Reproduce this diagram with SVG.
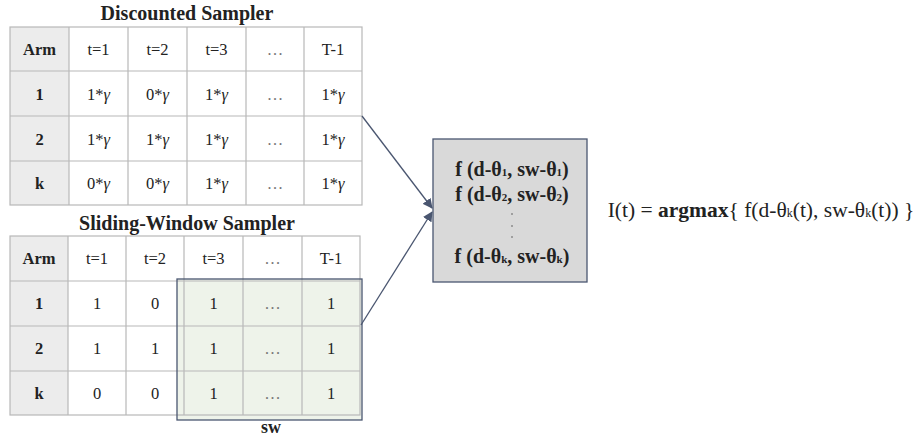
<svg xmlns="http://www.w3.org/2000/svg" width="919" height="440" viewBox="0 0 919 440">
<style>
.t{font-family:"Liberation Serif","Times New Roman",serif;fill:#222;text-anchor:middle}
.c{font-size:16.5px}
.b{font-weight:bold}
.g{font-style:italic}
.ttl{font-size:20px;font-weight:bold}
.grid{stroke:#b8b8b8;stroke-width:1.2;fill:none}
.hdr{fill:#ececec}
.dots{fill:#777}
.con{stroke:#4a5670;stroke-width:1.3;fill:none}
</style>
<defs>
<marker id="ah" viewBox="0 0 10 10" refX="9" refY="5" markerWidth="10" markerHeight="10" orient="auto" markerUnits="userSpaceOnUse">
<path d="M0,0 L10,5 L0,10 z" fill="#4a5670"/>
</marker>
</defs>
<rect width="919" height="440" fill="#fff"/>

<g id="discounted">
<text class="t ttl" x="187" y="20">Discounted Sampler</text>
<rect class="hdr" x="10" y="27" width="59" height="178"/>
<rect class="grid" x="10" y="27" width="352" height="178"/>
<path class="grid" d="M69,27V205M128,27V205M187,27V205M246,27V205M304,27V205M10,71H362M10,116H362M10,161H362"/>
<g class="t c">
<text class="b" x="39.5" y="55">Arm</text><text x="98.5" y="55">t=1</text><text x="157.5" y="55">t=2</text><text x="216.5" y="55">t=3</text><text class="dots" x="275" y="55">…</text><text x="333" y="55">T-1</text>
<text class="b" x="39.5" y="100">1</text><text x="98.5" y="100">1*<tspan class="g">γ</tspan></text><text x="157.5" y="100">0*<tspan class="g">γ</tspan></text><text x="216.5" y="100">1*<tspan class="g">γ</tspan></text><text class="dots" x="275" y="100">…</text><text x="333" y="100">1*<tspan class="g">γ</tspan></text>
<text class="b" x="39.5" y="145">2</text><text x="98.5" y="145">1*<tspan class="g">γ</tspan></text><text x="157.5" y="145">1*<tspan class="g">γ</tspan></text><text x="216.5" y="145">1*<tspan class="g">γ</tspan></text><text class="dots" x="275" y="145">…</text><text x="333" y="145">1*<tspan class="g">γ</tspan></text>
<text class="b" x="39.5" y="189">k</text><text x="98.5" y="189">0*<tspan class="g">γ</tspan></text><text x="157.5" y="189">0*<tspan class="g">γ</tspan></text><text x="216.5" y="189">1*<tspan class="g">γ</tspan></text><text class="dots" x="275" y="189">…</text><text x="333" y="189">1*<tspan class="g">γ</tspan></text>
</g>
</g>

<g id="sliding">
<text class="t ttl" x="187" y="230">Sliding-Window Sampler</text>
<rect class="hdr" x="10" y="236" width="58" height="179"/>
<rect x="177" y="279" width="185" height="141" fill="#eef3ea"/>
<rect class="grid" x="10" y="236" width="350" height="179"/>
<path class="grid" d="M68,236V415M126,236V415M184,236V415M243,236V415M302,236V415M10,281H360M10,326H360M10,371H360"/>
<g class="t c">
<text class="b" x="39" y="264">Arm</text><text x="97" y="264">t=1</text><text x="155" y="264">t=2</text><text x="213.5" y="264">t=3</text><text class="dots" x="272.5" y="264">…</text><text x="331" y="264">T-1</text>
<text class="b" x="39" y="309">1</text><text x="97" y="309">1</text><text x="155" y="309">0</text><text x="213.5" y="309">1</text><text class="dots" x="272.5" y="309">…</text><text x="331" y="309">1</text>
<text class="b" x="39" y="354">2</text><text x="97" y="354">1</text><text x="155" y="354">1</text><text x="213.5" y="354">1</text><text class="dots" x="272.5" y="354">…</text><text x="331" y="354">1</text>
<text class="b" x="39" y="399">k</text><text x="97" y="399">0</text><text x="155" y="399">0</text><text x="213.5" y="399">1</text><text class="dots" x="272.5" y="399">…</text><text x="331" y="399">1</text>
</g>
<rect x="177" y="279" width="185" height="141" fill="none" stroke="#4a5670" stroke-width="1.3"/>
<text class="t b" x="271" y="433" font-size="18">sw</text>
</g>

<g id="fbox">
<rect x="433" y="139" width="154" height="143" fill="#d9d9d9" stroke="#4a5670" stroke-width="1.3"/>
<g class="t b" font-size="20">
<text x="512" y="176">f (d-θ<tspan font-size="11">1</tspan>, sw-θ<tspan font-size="11">1</tspan>)</text>
<text x="512" y="201">f (d-θ<tspan font-size="11">2</tspan>, sw-θ<tspan font-size="11">2</tspan>)</text>
<text x="512" y="263">f (d-θ<tspan font-size="11">k</tspan>, sw-θ<tspan font-size="11">k</tspan>)</text>
</g>
<circle cx="512" cy="214" r="0.8" fill="#555"/>
<circle cx="512" cy="226" r="0.8" fill="#555"/>
<circle cx="512" cy="237" r="0.8" fill="#555"/>
</g>

<g id="connectors">
<path class="con" d="M362,116 L432,208" marker-end="url(#ah)"/>
<path class="con" d="M361,325 L432,212" marker-end="url(#ah)"/>
</g>

<g id="formula">
<text class="t" x="761" y="217" font-size="21.5">I(t) = <tspan font-weight="bold">argmax</tspan>{ f(d-θ<tspan font-size="12">k</tspan>(t), sw-θ<tspan font-size="12">k</tspan>(t)) }</text>
</g>
</svg>
